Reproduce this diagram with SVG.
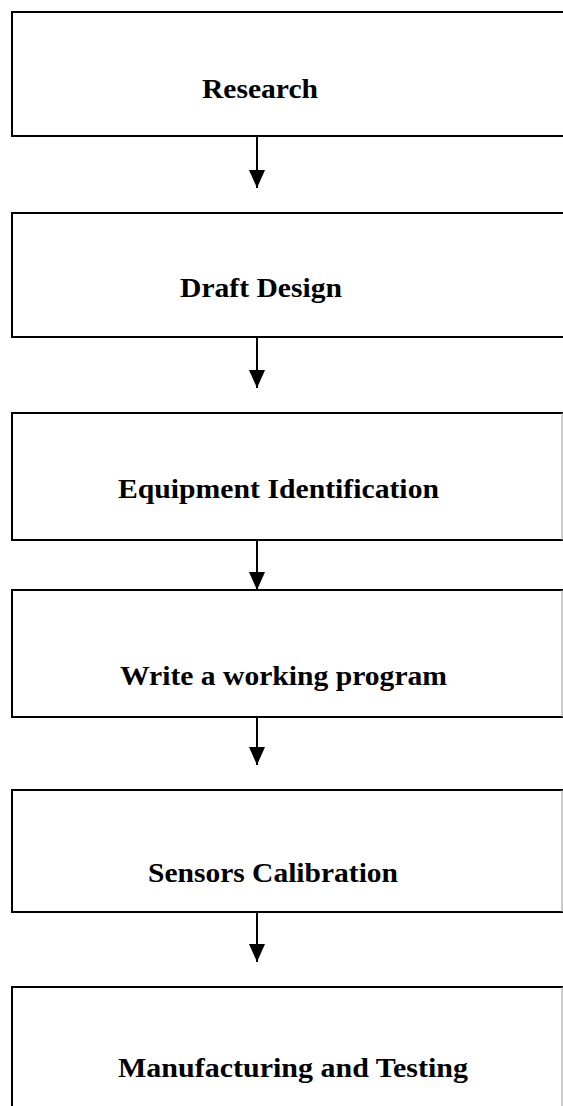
<svg xmlns="http://www.w3.org/2000/svg" width="563" height="1106" viewBox="0 0 563 1106">
  <style>
    .box { fill: none; stroke: #000; stroke-width: 2; }
    .edge { fill: none; stroke: #999; stroke-width: 1; }
    .label { font-family: "Liberation Serif", "Times New Roman", serif; font-weight: bold; font-size: 27px; fill: #000; }
    .link { stroke: #000; stroke-width: 2; fill: none; marker-end: url(#head); }
  </style>
  <defs>
    <marker id="head" markerUnits="userSpaceOnUse" markerWidth="18" markerHeight="16" refX="18" refY="8" orient="auto" viewBox="0 0 18 16">
      <path d="M0,0 L18,8 L0,16 Z" fill="#000"/>
    </marker>
  </defs>
  <rect width="563" height="1106" fill="#fff"/>

  <!-- process steps: box open at the right page margin -->
  <g id="research">
    <path class="box" d="M563,12 H12 V136 H563"/>
    <text class="label" x="202" y="98" textLength="116" lengthAdjust="spacingAndGlyphs">Research</text>
  </g>
  <g id="draft-design">
    <path class="box" d="M563,213 H12 V337 H563"/>
    <text class="label" x="180" y="297" textLength="162" lengthAdjust="spacingAndGlyphs">Draft Design</text>
  </g>
  <g id="equipment-identification">
    <path class="box" d="M563,413 H12 V540 H563"/>
    <path class="edge" d="M562,413 V540"/>
    <text class="label" x="118" y="498" textLength="321" lengthAdjust="spacingAndGlyphs">Equipment Identification</text>
  </g>
  <g id="write-program">
    <path class="box" d="M563,590 H12 V717 H563"/>
    <path class="edge" d="M562,590 V717"/>
    <text class="label" x="120" y="685" textLength="327" lengthAdjust="spacingAndGlyphs">Write a working program</text>
  </g>
  <g id="sensors-calibration">
    <path class="box" d="M563,790 H12 V912 H563"/>
    <path class="edge" d="M562,790 V912"/>
    <text class="label" x="148" y="882" textLength="250" lengthAdjust="spacingAndGlyphs">Sensors Calibration</text>
  </g>
  <g id="manufacturing-testing">
    <path class="box" d="M563,987 H12 V1106"/>
    <path class="edge" d="M562,987 V1106"/>
    <text class="label" x="118" y="1077" textLength="350" lengthAdjust="spacingAndGlyphs">Manufacturing and Testing</text>
  </g>

  <!-- flow connectors -->
  <g id="connectors">
    <line class="link" x1="257" y1="136" x2="257" y2="188"/>
    <line class="link" x1="257" y1="337" x2="257" y2="388"/>
    <line class="link" x1="257" y1="540" x2="257" y2="590"/>
    <line class="link" x1="257" y1="717" x2="257" y2="765"/>
    <line class="link" x1="257" y1="913" x2="257" y2="962"/>
  </g>
</svg>
